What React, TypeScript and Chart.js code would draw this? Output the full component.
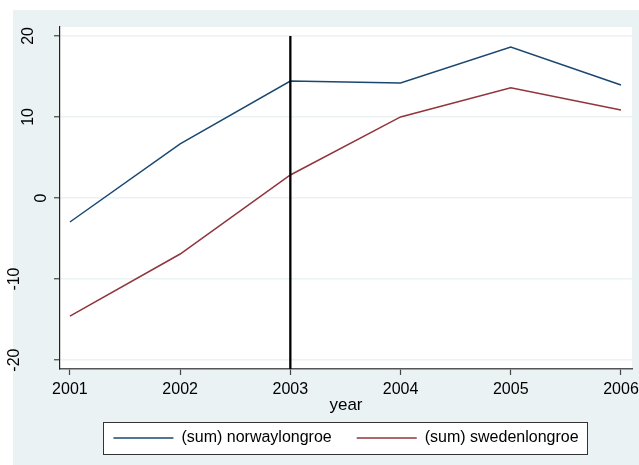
import { useEffect, useRef } from 'react';
import { Chart, registerables } from 'chart.js';

Chart.register(...registerables);

const years = [2001, 2002, 2003, 2004, 2005, 2006];
const norway = [-2.96, 6.67, 14.44, 14.2, 18.64, 13.95];
const sweden = [-14.57, -6.91, 2.84, 10.0, 13.6, 10.86];
const yTicks = [-20, -10, 0, 10, 20];
const seriesLabels = ['(sum) norwaylongroe', '(sum) swedenlongroe'];
const seriesColors = ['#1A476F', '#90353B'];
const xTitle = 'year';
const markerYear = 2003;
const markerTop = 20;
const xMin = 2000.91;
const xMax = 2006.1;
const yMin = -21.1;
const yMax = 21.1;

const FONT = '"Liberation Sans", Arial, Helvetica, sans-serif';
const BG = '#EAF2F3';

const bgPlugin = {
  id: 'stataBg',
  beforeDraw(chart: any) {
    const { ctx, chartArea, width, height } = chart;
    ctx.save();
    ctx.fillStyle = '#ffffff';
    ctx.fillRect(0, 0, width, height);
    ctx.fillStyle = BG;
    ctx.fillRect(13, 10, width - 13, height - 10);
    ctx.fillStyle = '#ffffff';
    ctx.fillRect(chartArea.left, 27, chartArea.right - chartArea.left, chartArea.bottom - 27);
    const lg = chart.legend;
    if (lg && lg.legendHitBoxes && lg.legendHitBoxes.length) {
      const hb = lg.legendHitBoxes;
      const l = hb[0].left - 10;
      const r = hb[hb.length - 1].left + hb[hb.length - 1].width + 9;
      const t = hb[0].top - 8;
      const b = hb[0].top + hb[0].height + 8;
      ctx.fillStyle = '#ffffff';
      ctx.fillRect(l, t, r - l, b - t);
      ctx.strokeStyle = '#333333';
      ctx.lineWidth = 1;
      ctx.strokeRect(Math.round(l) + 0.5, Math.round(t) + 0.5, Math.round(r - l), Math.round(b - t));
    }
    ctx.restore();
  },
};

const yLabelPlugin = {
  id: 'yRotLabels',
  afterDraw(chart: any) {
    const s = chart.scales.y;
    const ctx = chart.ctx;
    ctx.save();
    ctx.font = `16px ${FONT}`;
    ctx.fillStyle = '#000000';
    ctx.textAlign = 'center';
    ctx.textBaseline = 'middle';
    s.ticks.forEach((t: any) => {
      const label = String(t.value);
      const y = s.getPixelForValue(t.value);
      const x = s.right - 4.5 - 13.5 * label.length;
      ctx.save();
      ctx.translate(x, y);
      ctx.rotate(-Math.PI / 2);
      ctx.fillText(label, 0, 0);
      ctx.restore();
    });
    ctx.restore();
  },
};

export default function App() {
  const ref = useRef<HTMLCanvasElement>(null);

  useEffect(() => {
    if (!ref.current) return;
    const chart = new Chart(ref.current, {
      type: 'line',
      data: {
        datasets: [
          {
            label: 'marker',
            data: [
              { x: markerYear, y: markerTop },
              { x: markerYear, y: yMin },
            ],
            borderColor: '#000000',
            borderWidth: 2.3,
            pointRadius: 0,
            order: -1,
          },
          {
            label: seriesLabels[0],
            data: years.map((x, i) => ({ x, y: norway[i] })),
            borderColor: seriesColors[0],
            backgroundColor: seriesColors[0],
            borderWidth: 1.5,
            pointRadius: 0,
            tension: 0,
            order: 1,
          },
          {
            label: seriesLabels[1],
            data: years.map((x, i) => ({ x, y: sweden[i] })),
            borderColor: seriesColors[1],
            backgroundColor: seriesColors[1],
            borderWidth: 1.5,
            pointRadius: 0,
            tension: 0,
            order: 2,
          },
        ],
      },
      options: {
        animation: false,
        responsive: false,
        devicePixelRatio: 1,
        layout: { padding: { left: 13, top: 27, right: 7, bottom: 9 } },
        font: { family: FONT },
        scales: {
          x: {
            type: 'linear',
            min: xMin,
            max: xMax,
            afterBuildTicks: (s: any) => {
              s.ticks = years.map((v) => ({ value: v }));
            },
            afterFit: (s: any) => {
              s.height = 36;
              s.paddingLeft = 0;
              s.paddingRight = 0;
            },
            ticks: {
              font: { family: FONT, size: 16 },
              color: '#000000',
              padding: 5,
              maxRotation: 0,
              autoSkip: false,
              callback: (v: any) => String(v),
            },
            grid: {
              drawOnChartArea: false,
              drawTicks: true,
              tickLength: 6,
              tickColor: '#444444',
              tickWidth: 1.2,
            },
            border: { display: true, color: '#555555', width: 1.5 },
            title: {
              display: true,
              text: xTitle,
              color: '#000000',
              font: { family: FONT, size: 17 },
              padding: { top: 0, bottom: -10.7 },
            },
          },
          y: {
            type: 'linear',
            min: yMin,
            max: yMax,
            afterBuildTicks: (s: any) => {
              s.ticks = yTicks.map((v) => ({ value: v }));
            },
            afterFit: (s: any) => {
              s.width = 47;
              s.paddingTop = 0;
              s.paddingBottom = 0;
            },
            ticks: { display: false },
            grid: {
              color: BG,
              lineWidth: 1.5,
              drawTicks: true,
              tickLength: 6,
              tickColor: '#444444',
              tickWidth: 1.2,
            },
            border: { display: true, color: '#222222', width: 1.2 },
          },
        },
        plugins: {
          legend: {
            display: true,
            position: 'bottom',
            fullSize: false,
            labels: {
              filter: (item: any) => item.text !== 'marker',
              usePointStyle: true,
              pointStyle: 'line',
              pointStyleWidth: 60,
              padding: 25,
              color: '#000000',
              font: { family: FONT, size: 16 },
            },
          },
          tooltip: { enabled: false },
        },
      },
      plugins: [bgPlugin, yLabelPlugin],
    } as any);
    return () => chart.destroy();
  }, []);

  return (
    <div style={{ position: 'absolute', left: 0, top: 0, width: 639, height: 465 }}>
      <canvas ref={ref} width={639} height={465} style={{ display: 'block' }} />
    </div>
  );
}
